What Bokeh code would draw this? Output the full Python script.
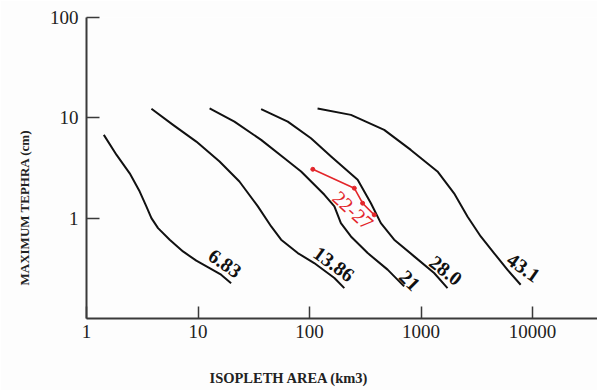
import math
from bokeh.plotting import figure
from bokeh.models import FixedTicker, PrintfTickFormatter, Title
from bokeh.core.properties import value
from bokeh.embed import file_html
from bokeh.resources import INLINE

# ---- data ----
x_ticks = [1, 10, 100, 1000, 10000]
y_ticks = [1, 10, 100]

c683_x = [1.43, 1.86, 2.44, 3.00, 3.44, 3.82, 4.38, 5.57, 7.33, 9.65, 12.7, 16.1, 19.8]
c683_y = [6.76, 4.27, 2.80, 1.84, 1.31, 1.00, 0.795, 0.610, 0.466, 0.377, 0.318, 0.273, 0.225]

c1386_x = [3.82, 5.97, 9.65, 15.6, 23.5, 34.4, 45.3, 55.6, 78.4, 110, 167, 205]
c1386_y = [12.3, 8.50, 5.80, 3.67, 2.32, 1.31, 0.827, 0.610, 0.449, 0.357, 0.253, 0.201]

c21_x = [12.7, 21.2, 36.8, 59.5, 84.0, 136, 167, 191, 235, 332, 501, 705]
c21_y = [12.4, 9.17, 6.03, 3.95, 2.92, 1.71, 1.31, 0.892, 0.657, 0.449, 0.307, 0.209]

c280_x = [36.8, 63.8, 103, 156, 270, 355, 436, 574, 867, 1309, 1726]
c280_y = [12.2, 9.17, 6.25, 4.11, 2.41, 1.41, 0.892, 0.610, 0.416, 0.284, 0.201]

c431_x = [118, 235, 467, 809, 1403, 1977, 2606, 3428, 4508, 5938, 7816]
c431_y = [12.4, 10.7, 7.58, 4.79, 2.92, 1.77, 1.04, 0.657, 0.449, 0.307, 0.217]

red_x = [107, 252, 299, 380]
red_y = [3.07, 1.99, 1.41, 1.08]

curve_labels = ["6.83", "13.86", "21", "28.0", "43.1"]
label_x = [17.5, 166, 793, 1667, 8300]
label_y = [0.355, 0.350, 0.240, 0.302, 0.323]
label_angle_deg = [-35, -36, -45, -38, -35]

red_label = "22-27"
red_label_x = 245
red_label_y = 1.20

x_title = "ISOPLETH AREA (km3)"
y_title = "MAXIMUM TEPHRA (cm)"

SERIF = "Liberation Serif"

p = figure(width=597, height=390, x_axis_type="log", y_axis_type="log",
           x_range=(1, 10 ** 4.582), y_range=(0.1, 100),
           output_backend="svg", toolbar_location=None,
           min_border_left=85, min_border_top=17, min_border_right=0,
           min_border_bottom=72)
p.outline_line_color = None
p.grid.visible = False
p.background_fill_color = "#fdfdfd"
p.border_fill_color = "#fdfdfd"

for ax, ticks in ((p.xaxis, x_ticks), (p.yaxis, y_ticks)):
    ax.ticker = FixedTicker(ticks=ticks, minor_ticks=[])
    ax.formatter = PrintfTickFormatter(format="%d")
    ax.axis_line_color = "#3a3a3a"
    ax.axis_line_width = 2
    ax.major_tick_line_color = "#3a3a3a"
    ax.major_tick_line_width = 1.5
    ax.major_tick_out = 0
    ax.minor_tick_in = 0
    ax.minor_tick_out = 0
    ax.major_label_text_font = SERIF
    ax.major_label_text_font_size = "19px"
    ax.major_label_text_color = "#222222"
p.xaxis.major_tick_in = 12
p.yaxis.major_tick_in = 13
p.xaxis.major_label_standoff = 6
p.yaxis.major_label_standoff = 8

# transparent placeholder label only to add room between the x axis and its title
p.xaxis.axis_label = "."
p.xaxis.axis_label_text_alpha = 0
p.xaxis.axis_label_text_font_size = "10px"
p.xaxis.axis_label_standoff = 16

for xs, ys in ((c683_x, c683_y), (c1386_x, c1386_y), (c21_x, c21_y),
               (c280_x, c280_y), (c431_x, c431_y)):
    p.line(xs, ys, line_color="#111111", line_width=2, line_join="round")

p.line(red_x, red_y, line_color="#e3262b", line_width=1.6, line_join="round")
p.scatter(red_x, red_y, size=4, color="#e3262b")

p.text(x=label_x, y=label_y, text=curve_labels,
       angle=[math.radians(a) for a in label_angle_deg],
       text_font=value(SERIF), text_font_style="bold",
       text_font_size="20px", text_color="#111111",
       text_align="center", text_baseline="middle")

p.text(x=[red_label_x], y=[red_label_y], text=[red_label],
       angle=math.radians(-42),
       text_font=value(SERIF), text_font_size="20px", text_color="#e3262b",
       text_align="center", text_baseline="middle")

xt = Title(text=x_title, align="left", offset=123, standoff=0,
           text_font=SERIF, text_font_style="bold", text_font_size="14.5px",
           text_color="#222222")
yt = Title(text=y_title, align="left", offset=33, standoff=29,
           text_font=SERIF, text_font_style="bold", text_font_size="13px",
           text_color="#222222")
p.add_layout(xt, "below")
p.add_layout(yt, "left")

open("out.html", "w").write(file_html(p, INLINE))
